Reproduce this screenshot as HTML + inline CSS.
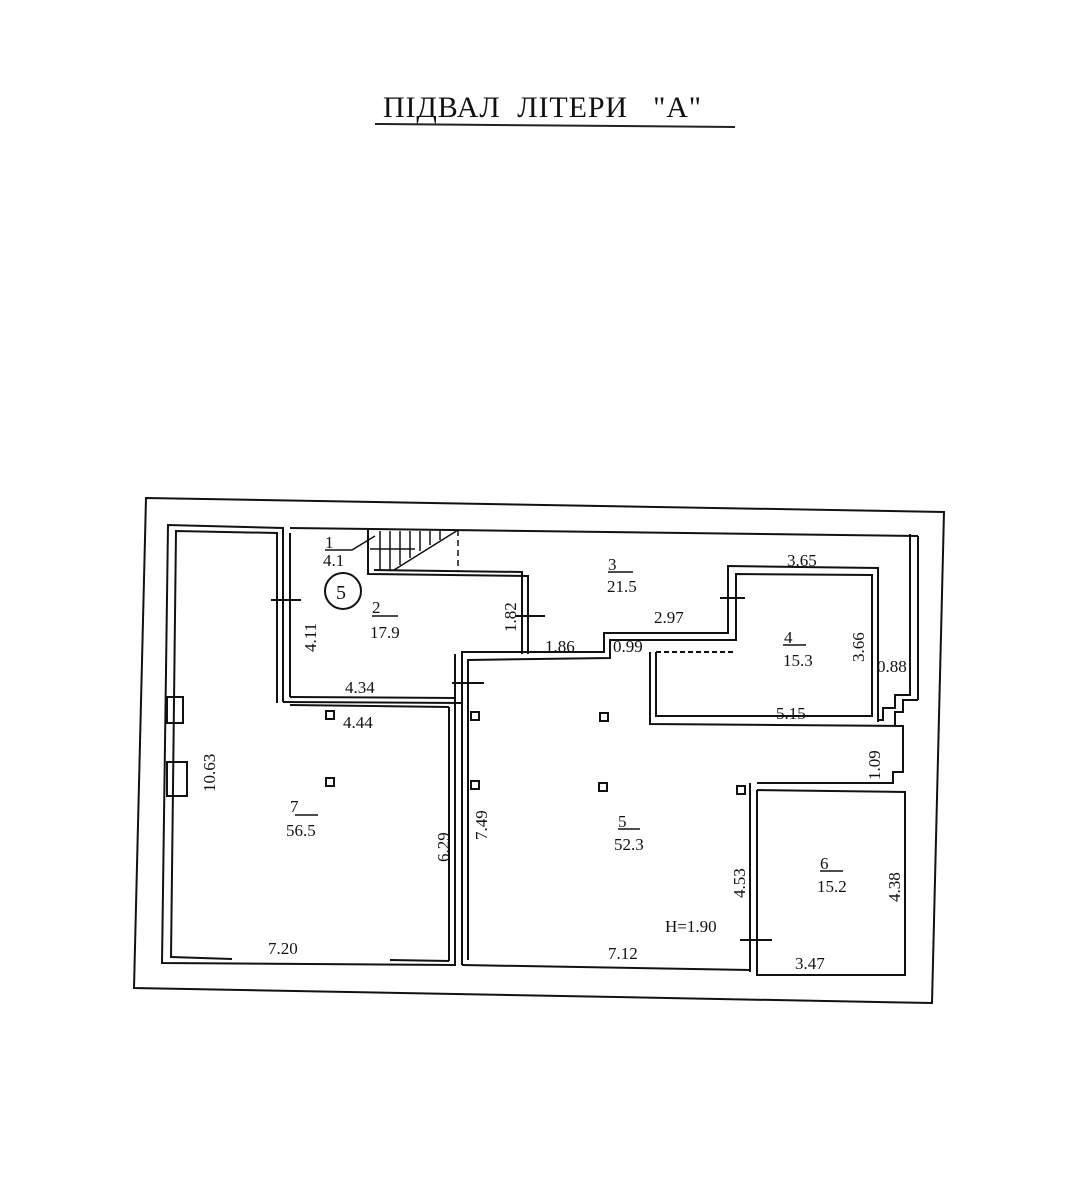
<!DOCTYPE html>
<html><head><meta charset="utf-8"><style>
html,body{margin:0;padding:0;background:#fff;}
svg{display:block}
text{font-family:"Liberation Serif",serif;fill:#111;}
</style></head><body>
<svg width="1089" height="1200" viewBox="0 0 1089 1200" xmlns="http://www.w3.org/2000/svg">
<text x="383" y="117" font-size="30" textLength="318" lengthAdjust="spacing" xml:space="preserve">ПІДВАЛ  ЛІТЕРИ   "А"</text>
<line x1="375" y1="124" x2="735" y2="127" stroke="#222" stroke-width="2"/>
<g fill="none" stroke="#111" stroke-width="2">
<polygon points="146,498 944,512 932,1003 134,988"/>
<polyline points="283,702 283,528 168,525 162,963 455,965 455,654"/>
<polyline points="277,703 277,533 176,531 171,958"/>
<line x1="171" y1="957" x2="232" y2="959"/><line x1="390" y1="960" x2="449" y2="961"/>
<line x1="449" y1="961" x2="449" y2="707"/>
<line x1="449" y1="707" x2="290" y2="705"/>
<polyline points="283,702 462,703"/>
<line x1="290" y1="697" x2="456" y2="698"/>
<line x1="290" y1="533" x2="290" y2="697"/>
<rect x="167" y="697" width="16" height="26"/><rect x="167" y="762" width="20" height="34"/>
<line x1="290" y1="528" x2="918" y2="536"/>
<line x1="918" y1="536" x2="918" y2="700"/>
<polyline points="918,700 903,700 903,712 895,712 895,726"/>
<polyline points="910,534 910,695 895,695 895,708 883,708 883,720 878,720"/>
<polyline points="368,530 368,574 528,576 528,654"/>
<polyline points="374,570 522,572 522,654"/>
<g stroke-width="1.5">
<line x1="380" y1="531" x2="380" y2="570"/><line x1="390" y1="531" x2="390" y2="570"/>
<line x1="400" y1="531" x2="400" y2="565"/><line x1="410" y1="531" x2="410" y2="558"/>
<line x1="420" y1="531" x2="420" y2="551"/><line x1="430" y1="531" x2="430" y2="545"/>
<line x1="440" y1="531" x2="440" y2="540"/>
<line x1="394" y1="570" x2="458" y2="530"/>
<line x1="370" y1="549" x2="415" y2="549"/>
<polyline points="325,550 352,550 375,536"/>
</g>
<line x1="458" y1="530" x2="458" y2="572" stroke-dasharray="6,4" stroke-width="1.5"/>
<polyline points="462,965 462,652 604,652 604,633 728,633 728,566 878,568 878,722"/>
<polyline points="468,960 468,660 610,658 610,640 736,640 736,574 872,575 872,716 656,716 656,652"/>
<line x1="656" y1="652" x2="736" y2="652" stroke-dasharray="5,3"/>
<polyline points="650,652 650,724 903,726 903,772 893,772 893,783 757,783"/>
<polyline points="750,783 750,972"/>
<polyline points="757,790 905,792 905,975 757,975 757,790"/>
<line x1="462" y1="965" x2="750" y2="970"/>
<line x1="271" y1="600" x2="301" y2="600"/><line x1="515" y1="616" x2="545" y2="616"/>
<line x1="452" y1="683" x2="484" y2="683"/><line x1="720" y1="598" x2="745" y2="598"/>
<line x1="740" y1="940" x2="772" y2="940"/>
<circle cx="343" cy="591" r="18"/>
<g stroke-width="1.5">
<line x1="372" y1="616" x2="398" y2="616"/><line x1="608" y1="572" x2="633" y2="572"/>
<line x1="783" y1="645" x2="806" y2="645"/><line x1="295" y1="815" x2="318" y2="815"/>
<line x1="618" y1="829" x2="640" y2="829"/><line x1="820" y1="871" x2="843" y2="871"/>
</g>
<rect x="326" y="711" width="8" height="8"/><rect x="326" y="778" width="8" height="8"/>
<rect x="471" y="712" width="8" height="8"/><rect x="471" y="781" width="8" height="8"/>
<rect x="600" y="713" width="8" height="8"/><rect x="599" y="783" width="8" height="8"/>
<rect x="737" y="786" width="8" height="8"/>
</g>
<g font-size="17">
<text x="325" y="548">1</text><text x="323" y="566">4.1</text>
<text x="336" y="599" font-size="20">5</text>
<text x="372" y="613">2</text><text x="370" y="638">17.9</text>
<text x="608" y="570">3</text><text x="607" y="592">21.5</text>
<text x="784" y="643">4</text><text x="783" y="666">15.3</text>
<text x="618" y="827">5</text><text x="614" y="850">52.3</text>
<text x="820" y="869">6</text><text x="817" y="892">15.2</text>
<text x="290" y="812">7</text><text x="286" y="836">56.5</text>
<text x="345" y="693">4.34</text><text x="343" y="728">4.44</text>
<text x="545" y="652">1.86</text><text x="613" y="652">0.99</text>
<text x="654" y="623">2.97</text><text x="787" y="566">3.65</text>
<text x="776" y="719">5.15</text><text x="877" y="672">0.88</text>
<text x="268" y="954">7.20</text><text x="608" y="959">7.12</text>
<text x="665" y="932">H=1.90</text><text x="795" y="969">3.47</text>
<text transform="translate(316,652) rotate(-90)">4.11</text>
<text transform="translate(516,632) rotate(-90)">1.82</text>
<text transform="translate(864,662) rotate(-90)">3.66</text>
<text transform="translate(880,780) rotate(-90)">1.09</text>
<text transform="translate(215,792) rotate(-90)">10.63</text>
<text transform="translate(449,862) rotate(-90)">6.29</text>
<text transform="translate(487,840) rotate(-90)">7.49</text>
<text transform="translate(745,898) rotate(-90)">4.53</text>
<text transform="translate(900,902) rotate(-90)">4.38</text>
</g>
</svg>
</body></html>
